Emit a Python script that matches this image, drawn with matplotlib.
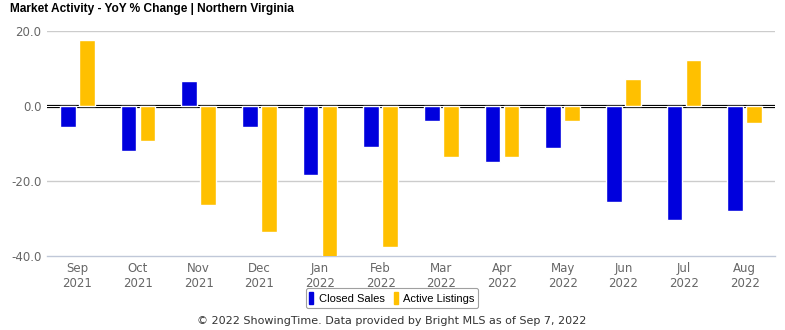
import matplotlib
matplotlib.use("Agg")
import matplotlib.pyplot as plt
from matplotlib.patches import Patch
import numpy as np

months = ["Sep\n2021", "Oct\n2021", "Nov\n2021", "Dec\n2021", "Jan\n2022", "Feb\n2022",
          "Mar\n2022", "Apr\n2022", "May\n2022", "Jun\n2022", "Jul\n2022", "Aug\n2022"]
closed_sales = [-5.5, -11.9, 6.8, -5.5, -18.5, -10.8, -3.9, -14.8, -11.1, -25.7, -30.5, -27.9]
active_listings = [17.5, -9.2, -26.3, -33.7, -40.2, -37.5, -13.5, -13.5, -4.1, 7.3, 12.4, -4.4]
yticks = [20.0, 0.0, -20.0, -40.0]

blue = "#0000dd"
yellow = "#ffc000"

fig = plt.figure(figsize=(7.85, 3.30), dpi=100)
ax = fig.add_axes([47/785, 1-256/330, (775-47)/785, (256-31)/330])

x = np.arange(len(months))
w = 0.26
off = 0.158
ax.bar(x - off, closed_sales, w, color=blue, edgecolor="white", linewidth=1.0, zorder=3)
ax.bar(x + off, active_listings, w, color=yellow, edgecolor="white", linewidth=1.0, zorder=3)

ax.set_ylim(-40, 20)
ax.set_xlim(-0.5, len(months) - 0.5)
ax.set_yticks(yticks)
ax.set_yticklabels([f"{v:.1f}" for v in yticks], color="#666666", fontsize=8.5)
for v in [20.0, -20.0]:
    ax.axhline(v, color="#cccccc", linewidth=1.0, zorder=1)
ax.axhline(-40.0, color="#c0c8d8", linewidth=1.0, zorder=1, clip_on=False)
ax.axhline(0, color="black", linewidth=2.3, zorder=2)
ax.axhline(0, color="white", linewidth=0.75, zorder=2)

ax.set_xticks(x)
ax.set_xticklabels(months, color="#666666", fontsize=8.5, linespacing=1.25)
ax.tick_params(axis="both", length=0, pad=4)
for s in ax.spines.values():
    s.set_visible(False)
ax.set_facecolor("white")

fig.text(10/785, 1-9/330, "Market Activity - YoY % Change | Northern Virginia",
         fontsize=8.6, fontweight="bold", family="Liberation Sans", va="center", ha="left")

handles = [Patch(facecolor=blue, edgecolor=blue), Patch(facecolor=yellow, edgecolor=yellow)]
leg = fig.legend(handles, ["Closed Sales", "Active Listings"], loc="center",
                 bbox_to_anchor=(392/785, 1-298/330), ncol=2, frameon=True,
                 prop={"family": "Liberation Sans", "size": 8},
                 handlelength=0.35, handleheight=1.3, handletextpad=0.5,
                 columnspacing=0.8, borderpad=0.35, fancybox=True)
leg.get_frame().set_edgecolor("#888888")
leg.get_frame().set_linewidth(0.8)

fig.text(392/785, 1-321/330, "© 2022 ShowingTime. Data provided by Bright MLS as of Sep 7, 2022",
         fontsize=8, color="#333333", ha="center", va="center")

fig.savefig("out.png", dpi=100)
